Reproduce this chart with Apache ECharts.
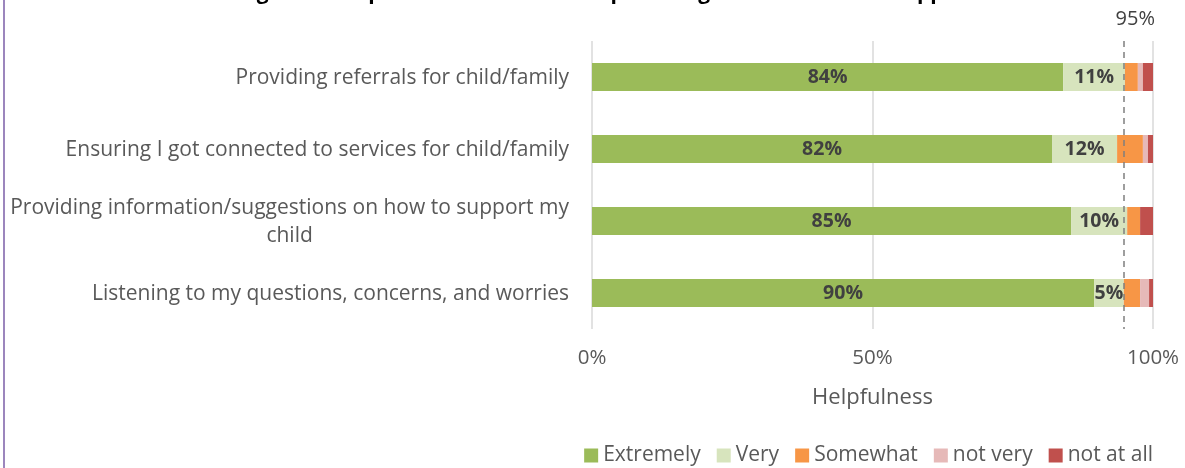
<!DOCTYPE html>
<html>
<head>
<meta charset="utf-8">
<script src="https://cdn.jsdelivr.net/npm/echarts@6/dist/echarts.min.js"></script>
<style>
  html, body { margin: 0; padding: 0; background: #fff; }
  #chart { width: 1185px; height: 468px; }
</style>
</head>
<body>
<div id="chart"></div>
<script>
const titleText = 'Figure 5. Helpfulness of FCS staff in providing information and support';
const categories = [
  'Providing referrals for child/family',
  'Ensuring I got connected to services for child/family',
  'Providing information/suggestions on how to support my\nchild',
  'Listening to my questions, concerns, and worries'
];
const seriesNames = ['Extremely', 'Very', 'Somewhat', 'not very', 'not at all'];
const extremely = [84, 82, 85.4, 89.5];
const very = [11, 11.6, 10, 5.3];
const somewhat = [2.3, 4.6, 2.3, 2.9];
const notVery = [0.9, 0.9, 0, 1.6];
const notAtAll = [1.8, 0.9, 2.3, 0.7];
const extremelyLabels = ['84%', '82%', '85%', '90%'];
const veryLabels = ['11%', '12%', '10%', '5%'];
const xTicks = [0, 50, 100];
const targetValue = 94.7;
const targetLabel = '95%';

const colors = ['#9bbb59', '#d7e4bd', '#f79646', '#e6b9b8', '#c0504d'];
const values = [extremely, very, somewhat, notVery, notAtAll];
const labelSets = [extremelyLabels, veryLabels, null, null, null];
const FONT = 'Open Sans';

const chart = echarts.init(document.getElementById('chart'));

const series = seriesNames.map((name, i) => {
  const s = {
    name: name,
    type: 'bar',
    stack: 'total',
    barWidth: 28,
    itemStyle: { color: colors[i] },
    data: values[i],
    label: labelSets[i] ? {
      show: true,
      position: 'inside',
      formatter: p => labelSets[i][p.dataIndex],
      color: '#404040',
      fontWeight: 'bold',
      fontSize: 19.5,
      fontFamily: FONT
    } : { show: false },
    emphasis: { disabled: true }
  };
  if (i === 0) {
    s.markLine = {
      silent: true,
      symbol: 'none',
      lineStyle: { color: '#7f7f7f', type: [6, 5], width: 1.5 },
      label: {
        show: true,
        position: 'start',
        distance: 12,
        offset: [12, 0],
        formatter: targetLabel,
        color: '#404040',
        fontSize: 20,
        fontFamily: FONT
      },
      data: [{ xAxis: targetValue }]
    };
  }
  return s;
});

chart.setOption({
  animation: false,
  color: colors,
  graphic: [
    { type: 'line', shape: { x1: 4, y1: 0, x2: 4, y2: 468 }, style: { stroke: '#7b5ea7', lineWidth: 1.5 } },
    { type: 'text', x: 607, y: 4, style: { text: titleText, textAlign: 'center', textVerticalAlign: 'bottom', fill: '#000', font: 'bold 21px "Open Sans"' } }
  ],
  grid: { left: 592, right: 32, top: 41, bottom: 139, containLabel: false },
  legend: {
    right: 27, top: 440,
    icon: 'rect', itemWidth: 14, itemHeight: 14, itemGap: 16,
    textStyle: { color: '#595959', fontSize: 21, fontFamily: FONT },
    data: seriesNames
  },
  xAxis: {
    type: 'value', min: 0, max: 100, interval: 50,
    axisLine: { show: false }, axisTick: { show: false },
    splitLine: { show: true, lineStyle: { color: '#d9d9d9', width: 1.5 } },
    axisLabel: {
      formatter: v => xTicks.includes(v) ? v + '%' : '',
      color: '#595959', fontSize: 20.5, fontFamily: FONT, margin: 19
    },
    name: 'Helpfulness', nameLocation: 'middle', nameGap: 58,
    nameTextStyle: { color: '#595959', fontSize: 22, fontFamily: FONT }
  },
  yAxis: {
    type: 'category', inverse: true, data: categories,
    axisLine: { show: false }, axisTick: { show: false },
    axisLabel: {
      color: '#595959', fontSize: 21, fontFamily: FONT, margin: 23,
      lineHeight: 28,
      formatter: v => v.split('\n').map(l => '{c|' + l + '}').join('\n'),
      rich: { c: { align: 'center', color: '#595959', fontSize: 21, fontFamily: FONT, lineHeight: 28, padding: [2, 0, 0, 0] } }
    }
  },
  series: series
});
</script>
</body>
</html>
